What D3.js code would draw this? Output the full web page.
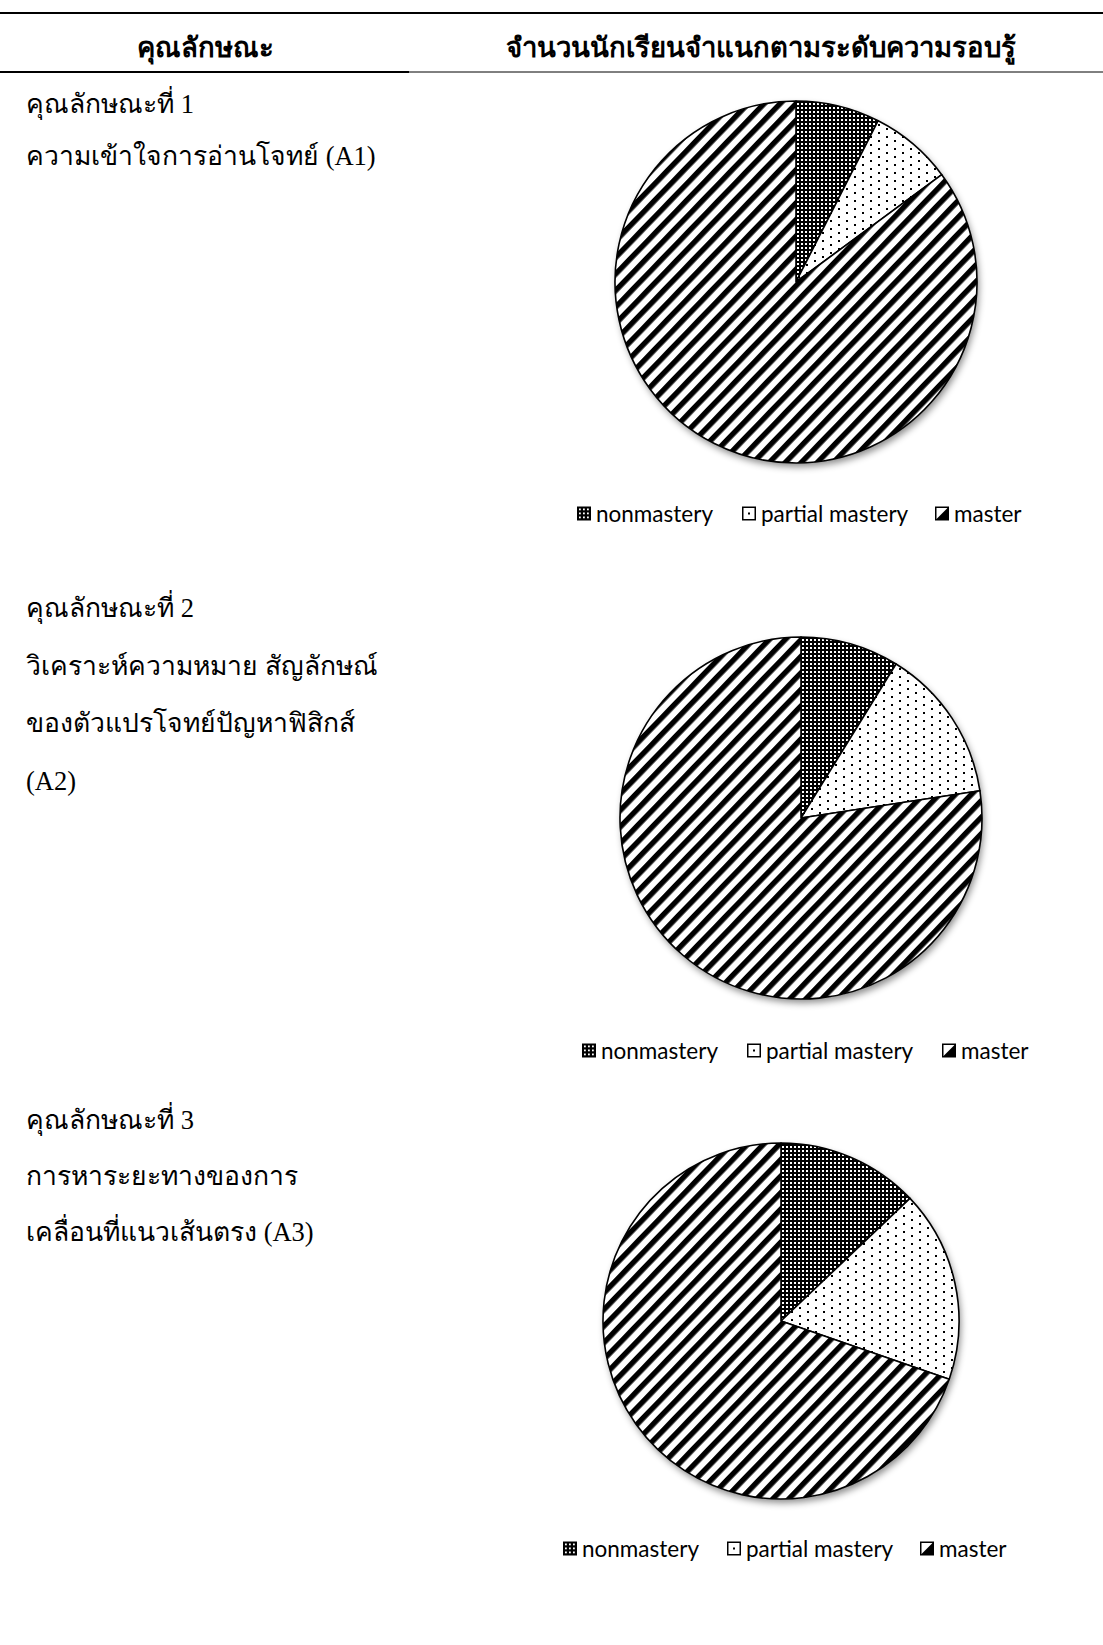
<!DOCTYPE html>
<html>
<head>
<meta charset="utf-8">
<script src="https://cdn.jsdelivr.net/npm/d3@7"></script>
<style>
  body { margin: 0; background: #fff; }
  .thai { font-family: "Liberation Serif", "DejaVu Serif", serif; fill: #000; }
  .legend text { font-family: Lato, "Open Sans", sans-serif; font-size: 22.5px; fill: #000; }
</style>
</head>
<body>
<div id="chart"></div>
<script>
// levels (slice order, clockwise from 12 o'clock)
const categories = ['nonmastery', 'partial mastery', 'master'];

// percent of students per level
const valuesA1 = [7.5, 7.4, 85.1];
const valuesA2 = [8.8, 13.8, 77.4];
const valuesA3 = [12.9, 17.4, 69.7];

const headers = ['คุณลักษณะ', 'จำนวนนักเรียนจำแนกตามระดับความรอบรู้'];
const labelsA1 = ['คุณลักษณะที่ 1', 'ความเข้าใจการอ่านโจทย์  (A1)'];
const labelsA2 = ['คุณลักษณะที่ 2', 'วิเคราะห์ความหมาย สัญลักษณ์', 'ของตัวแปรโจทย์ปัญหาฟิสิกส์', '(A2)'];
const labelsA3 = ['คุณลักษณะที่ 3', 'การหาระยะทางของการ', 'เคลื่อนที่แนวเส้นตรง  (A3)'];

const width = 1103, height = 1645;

const svg = d3.select('#chart').append('svg')
  .attr('width', width)
  .attr('height', height);

const defs = svg.append('defs');

// nonmastery: black with a fine grid of white dots
const p1 = defs.append('pattern')
  .attr('id', 'pat-non')
  .attr('patternUnits', 'userSpaceOnUse')
  .attr('width', 4).attr('height', 4);
p1.append('rect').attr('width', 4).attr('height', 4).attr('fill', '#000');
p1.append('rect').attr('x', 1).attr('y', 1).attr('width', 2).attr('height', 2).attr('fill', '#fff');

// partial mastery: white with sparse staggered black dots
const p2 = defs.append('pattern')
  .attr('id', 'pat-partial')
  .attr('patternUnits', 'userSpaceOnUse')
  .attr('width', 16).attr('height', 16);
p2.append('rect').attr('width', 16).attr('height', 16).attr('fill', '#fff');
[[2, 2], [10, 6], [2, 10], [10, 14]].forEach(d => {
  p2.append('rect').attr('x', d[0]).attr('y', d[1]).attr('width', 2).attr('height', 2).attr('fill', '#000');
});

// master: wide diagonal stripes
const p3 = defs.append('pattern')
  .attr('id', 'pat-master')
  .attr('patternUnits', 'userSpaceOnUse')
  .attr('width', 11.5).attr('height', 11.5)
  .attr('patternTransform', 'rotate(-46)');
p3.append('rect').attr('width', 11.5).attr('height', 11.5).attr('fill', '#fff');
p3.append('rect').attr('width', 11.5).attr('height', 5.4).attr('fill', '#000');

const shadow = defs.append('filter')
  .attr('id', 'shadow')
  .attr('x', '-20%').attr('y', '-20%')
  .attr('width', '140%').attr('height', '140%');
shadow.append('feDropShadow')
  .attr('dx', 2).attr('dy', 4)
  .attr('stdDeviation', 3.5)
  .attr('flood-color', '#000')
  .attr('flood-opacity', 0.45);

const fillScale = d3.scaleOrdinal()
  .domain(categories)
  .range(['url(#pat-non)', 'url(#pat-partial)', 'url(#pat-master)']);

// table header rules
svg.append('line').attr('x1', 0).attr('x2', width).attr('y1', 13).attr('y2', 13)
  .attr('stroke', '#000').attr('stroke-width', 2);
svg.append('line').attr('x1', 0).attr('x2', 409).attr('y1', 72).attr('y2', 72)
  .attr('stroke', '#000').attr('stroke-width', 2);
svg.append('line').attr('x1', 409).attr('x2', width).attr('y1', 72).attr('y2', 72)
  .attr('stroke', '#000').attr('stroke-width', 1);

svg.selectAll('text.head')
  .data(headers)
  .enter().append('text')
  .attr('class', 'head thai')
  .attr('x', (d, i) => i === 0 ? 205 : 761)
  .attr('y', 57)
  .attr('text-anchor', 'middle')
  .attr('font-size', 27.5)
  .attr('font-weight', 'bold')
  .text(d => d);

const panels = [
  { values: valuesA1, labels: labelsA1, cx: 796, cy: 282, r: 181, textY: 113, lineGap: 52,
    legendY: 514, legendX: [577, 742, 935] },
  { values: valuesA2, labels: labelsA2, cx: 801, cy: 818, r: 181, textY: 617, lineGap: 57.5,
    legendY: 1051, legendX: [582, 747, 942] },
  { values: valuesA3, labels: labelsA3, cx: 781, cy: 1321, r: 178, textY: 1129, lineGap: 56,
    legendY: 1549, legendX: [563, 727, 920] }
];

const pie = d3.pie().sort(null).value(d => d.value);

panels.forEach(p => {
  // left column text
  svg.append('g').selectAll('text')
    .data(p.labels)
    .enter().append('text')
    .attr('class', 'thai')
    .attr('x', 26)
    .attr('y', (d, i) => p.textY + i * p.lineGap)
    .attr('font-size', 26.5)
    .text(d => d);

  const arc = d3.arc().innerRadius(0).outerRadius(p.r);
  const data = categories.map((c, i) => ({ key: c, value: p.values[i] }));

  const g = svg.append('g')
    .attr('transform', 'translate(' + p.cx + ',' + p.cy + ')');

  g.append('circle')
    .attr('r', p.r)
    .attr('fill', '#fff')
    .attr('filter', 'url(#shadow)');

  g.selectAll('path')
    .data(pie(data))
    .enter().append('path')
    .attr('d', arc)
    .attr('fill', d => fillScale(d.data.key))
    .attr('stroke', '#000')
    .attr('stroke-width', 1.6)
    .attr('stroke-linejoin', 'round');

  // legend
  const lg = svg.append('g').attr('class', 'legend');
  const items = lg.selectAll('g')
    .data(categories)
    .enter().append('g')
    .attr('transform', (d, i) => 'translate(' + p.legendX[i] + ',' + p.legendY + ')');

  items.each(function (d, i) {
    const it = d3.select(this);
    if (i === 0) {
      it.append('rect').attr('x', 0).attr('y', -7.5).attr('width', 14).attr('height', 14)
        .attr('fill', '#000');
      [2.5, 6.5, 10.5].forEach(xx => [-5.5, -1.5, 2.5].forEach(yy => {
        it.append('rect').attr('x', xx - 0.5).attr('y', yy).attr('width', 1.8).attr('height', 1.8).attr('fill', '#fff');
      }));
    } else if (i === 1) {
      it.append('rect').attr('x', 0.75).attr('y', -6.75).attr('width', 12.5).attr('height', 12.5)
        .attr('fill', '#fff').attr('stroke', '#000').attr('stroke-width', 1.5);
      it.append('rect').attr('x', 6).attr('y', -1.5).attr('width', 2).attr('height', 2).attr('fill', '#000');
    } else {
      it.append('rect').attr('x', 0.75).attr('y', -6.75).attr('width', 12.5).attr('height', 12.5)
        .attr('fill', '#fff').attr('stroke', '#000').attr('stroke-width', 1.5);
      it.append('path').attr('d', 'M13.25,-6.75 L13.25,5.75 L0.75,5.75 Z').attr('fill', '#000');
    }
    it.append('text')
      .attr('x', 19)
      .attr('y', 7.5)
      .text(d);
  });
});
</script>
</body>
</html>
